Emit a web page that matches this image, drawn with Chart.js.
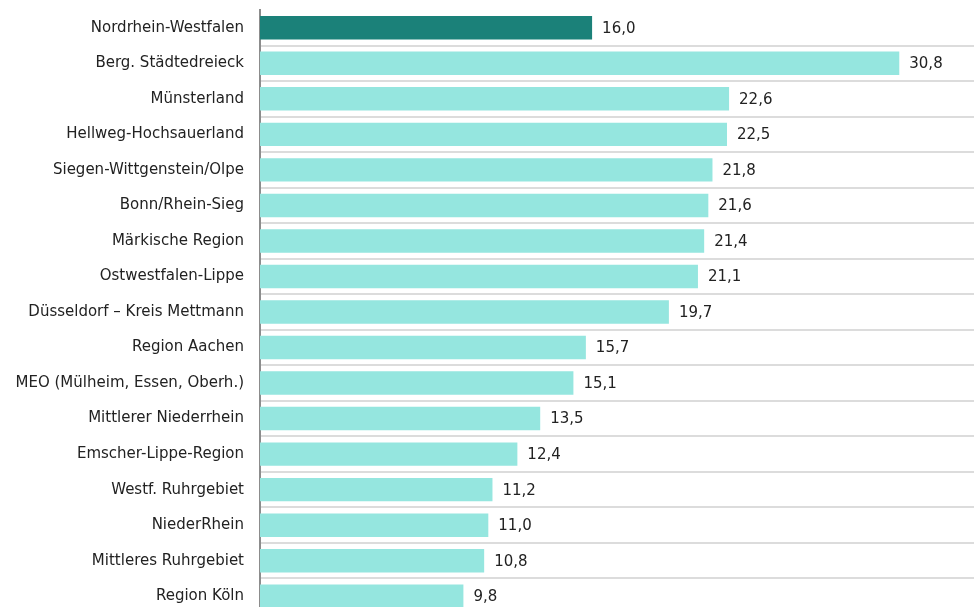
<!DOCTYPE html>
<html lang="de">
<head>
    <meta charset="UTF-8">
    <title>Regionen NRW</title>
    <style>
        html, body { margin: 0; padding: 0; background: #fff; overflow: hidden; }
        .wrap { width: 974px; height: 620px; }
    </style>
</head>
<body>
    <div class="wrap"><canvas id="chart" width="974" height="620"></canvas></div>

    <script src="https://cdn.jsdelivr.net/npm/chart.js"></script>
    <script>
    const regions = [
        "Nordrhein-Westfalen",
        "Berg. Städtedreieck",
        "Münsterland",
        "Hellweg-Hochsauerland",
        "Siegen-Wittgenstein/Olpe",
        "Bonn/Rhein-Sieg",
        "Märkische Region",
        "Ostwestfalen-Lippe",
        "Düsseldorf – Kreis Mettmann",
        "Region Aachen",
        "MEO (Mülheim, Essen, Oberh.)",
        "Mittlerer Niederrhein",
        "Emscher-Lippe-Region",
        "Westf. Ruhrgebiet",
        "NiederRhein",
        "Mittleres Ruhrgebiet",
        "Region Köln"
    ];
    const values = [16.0, 30.8, 22.6, 22.5, 21.8, 21.6, 21.4, 21.1, 19.7, 15.7, 15.1, 13.5, 12.4, 11.2, 11.0, 10.8, 9.8];

    const darkTeal = '#1b8179';
    const lightTeal = '#95e6df';
    const fontFamily = '"DejaVu Sans", Verdana, sans-serif';

    // draws the value next to each bar, with a decimal comma
    const valueLabels = {
        id: 'valueLabels',
        afterDatasetsDraw(chart) {
            const ctx = chart.ctx;
            const meta = chart.getDatasetMeta(0);
            ctx.save();
            ctx.font = '15px ' + fontFamily;
            ctx.fillStyle = '#222';
            ctx.textAlign = 'left';
            ctx.textBaseline = 'middle';
            meta.data.forEach((bar, i) => {
                const txt = values[i].toFixed(1).replace('.', ',');
                ctx.fillText(txt, bar.x + 10, bar.y + 1);
            });
            ctx.restore();
        }
    };

    new Chart(document.getElementById('chart'), {
        type: 'bar',
        data: {
            labels: regions,
            datasets: [{
                data: values,
                backgroundColor: values.map((v, i) => i === 0 ? darkTeal : lightTeal),
                borderWidth: 0,
                barPercentage: 0.66,
                categoryPercentage: 1.0
            }]
        },
        options: {
            indexAxis: 'y',
            responsive: false,
            animation: false,
            layout: { padding: { top: 10, bottom: 6, left: 0, right: 0 } },
            plugins: {
                legend: { display: false },
                tooltip: { enabled: false }
            },
            scales: {
                x: {
                    display: false,
                    min: 0,
                    max: 34.4
                },
                y: {
                    afterFit(scale) {
                        scale.width = 260;
                        // no extra room above/below for the tick labels
                        scale.paddingTop = 0;
                        scale.paddingBottom = 0;
                    },
                    border: { display: true, color: '#8c8c8c', width: 2 },
                    grid: {
                        offset: true,
                        drawTicks: false,
                        lineWidth: 2,
                        color: (c) => c.index === 0 ? 'rgba(0,0,0,0)' : '#dcdcdc'
                    },
                    ticks: {
                        padding: 16,
                        color: '#222',
                        font: { family: fontFamily, size: 15 }
                    }
                }
            }
        },
        plugins: [valueLabels]
    });
    </script>
</body>
</html>
